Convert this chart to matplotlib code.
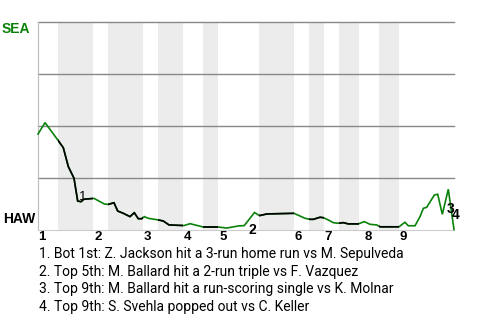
import matplotlib
matplotlib.use("Agg")
import matplotlib.pyplot as plt
from matplotlib.patches import Rectangle

# win probability for SEA, one point per event (x = plate appearance index)
wp_x = [0, 1.40, 3.93, 5.05, 6.05, 7.18, 7.92, 8.58, 9.18, 11.17, 13.23, 14.03,
        15.16, 15.90, 17.02, 18.36, 19.21, 20.01, 20.69, 21.21, 22.01, 24.00,
        25.00, 26.14, 29.13, 30.33, 31.32, 32.98, 35.97, 37.65, 39.96, 41.16,
        43.20, 44.19, 45.69, 51.08, 52.27, 53.27, 54.27, 54.93, 56.26, 56.92,
        57.92, 58.92, 59.80, 60.91, 61.91, 63.91, 65.10, 66.24, 67.58, 68.24,
        72.03, 73.22, 73.88, 75.22, 76.22, 76.88, 77.55, 79.07, 79.75, 80.67,
        81.86, 83.0]
wp_y = [0.460, 0.515, 0.432, 0.394, 0.303, 0.247, 0.137, 0.134, 0.146, 0.150,
        0.123, 0.121, 0.129, 0.089, 0.078, 0.062, 0.081, 0.052, 0.052, 0.062,
        0.054, 0.046, 0.041, 0.022, 0.019, 0.028, 0.022, 0.012, 0.012, 0.007,
        0.017, 0.019, 0.082, 0.067, 0.075, 0.078, 0.065, 0.054, 0.049, 0.049,
        0.059, 0.057, 0.046, 0.033, 0.030, 0.033, 0.027, 0.027, 0.038, 0.025,
        0.022, 0.013, 0.013, 0.035, 0.018, 0.018, 0.062, 0.102, 0.107, 0.166,
        0.170, 0.073, 0.194, 0.0]

# bottom halves of innings (start, end) in plate appearances
bottom_halves = [(4, 11), (14, 21), (24, 29), (33, 36), (44, 51), (54, 57),
                 (60, 64), (68, 72)]
game_end = 83

inning_ticks = [0.8, 12.0, 21.9, 29.9, 36.9, 51.9, 57.9, 65.8, 72.8]
inning_labels = ['1', '2', '3', '4', '5', '6', '7', '8', '9']

away_team = 'SEA'
home_team = 'HAW'

events = ['1. Bot 1st: Z. Jackson hit a 3-run home run vs M. Sepulveda',
          '2. Top 5th: M. Ballard hit a 2-run triple vs F. Vazquez',
          '3. Top 9th: M. Ballard hit a run-scoring single vs K. Molnar',
          '4. Top 9th: S. Svehla popped out vs C. Keller']
event_marks = ['1', '2', '3', '4']
event_mark_pos = [(9.0, 0.157), (42.7, -0.002), (82.4, 0.099), (83.3, 0.070)]

green = '#0a820a'

fig = plt.figure(figsize=(4.8, 3.2), dpi=100)
ax = fig.add_axes([38 / 480, 1 - 229.5 / 320, 416 / 480, 207.5 / 320])
ax.set_xlim(0, game_end)
ax.set_ylim(0, 1)

for a, b in bottom_halves:
    ax.axvspan(a, b, color='#ececec', lw=0, zorder=0)
for g in [0.25, 0.5, 0.75, 1.0]:
    ax.axhline(g, color='#888888', lw=1.0, zorder=1, clip_on=False)

ax.plot(wp_x, wp_y, color=green, lw=1.2, zorder=3, clip_on=False,
        solid_joinstyle='miter')
for a, b in bottom_halves:
    ln, = ax.plot(wp_x, wp_y, color='black', lw=1.2, zorder=4)
    ln.set_clip_path(Rectangle((a, -0.2), b - a, 1.4, transform=ax.transData))

for s in ['top', 'right']:
    ax.spines[s].set_visible(False)
ax.spines['left'].set_color('#bbbbbb')
ax.spines['bottom'].set_color('#cccccc')
ax.set_yticks([])
ax.set_xticks(inning_ticks, inning_labels)
ax.tick_params(axis='x', length=0, pad=1)
for t in ax.get_xticklabels():
    t.set_fontfamily('Liberation Sans')
    t.set_fontweight('bold')
    t.set_fontsize(9.5)

fig.text(2 / 480, 1 - 29 / 320, away_team, color=green, fontsize=10,
         fontweight='bold', family='Liberation Sans', va='center')
fig.text(3 / 480, 1 - 219 / 320, home_team, color='black', fontsize=10,
         fontweight='bold', family='Liberation Sans', va='center')

for m, (ex, ey) in zip(event_marks, event_mark_pos):
    ax.text(ex, ey, m, fontsize=10 if m != '1' else 9.5,
            fontweight='normal' if m == '1' else 'bold',
            family='Liberation Sans', ha='center', va='center', zorder=5)

for i, e in enumerate(events):
    fig.text(39 / 480, 1 - (254 + i * 17.7) / 320, e, fontsize=10,
             family='Roboto', va='center', color='black')

fig.savefig('out.png', dpi=100)
